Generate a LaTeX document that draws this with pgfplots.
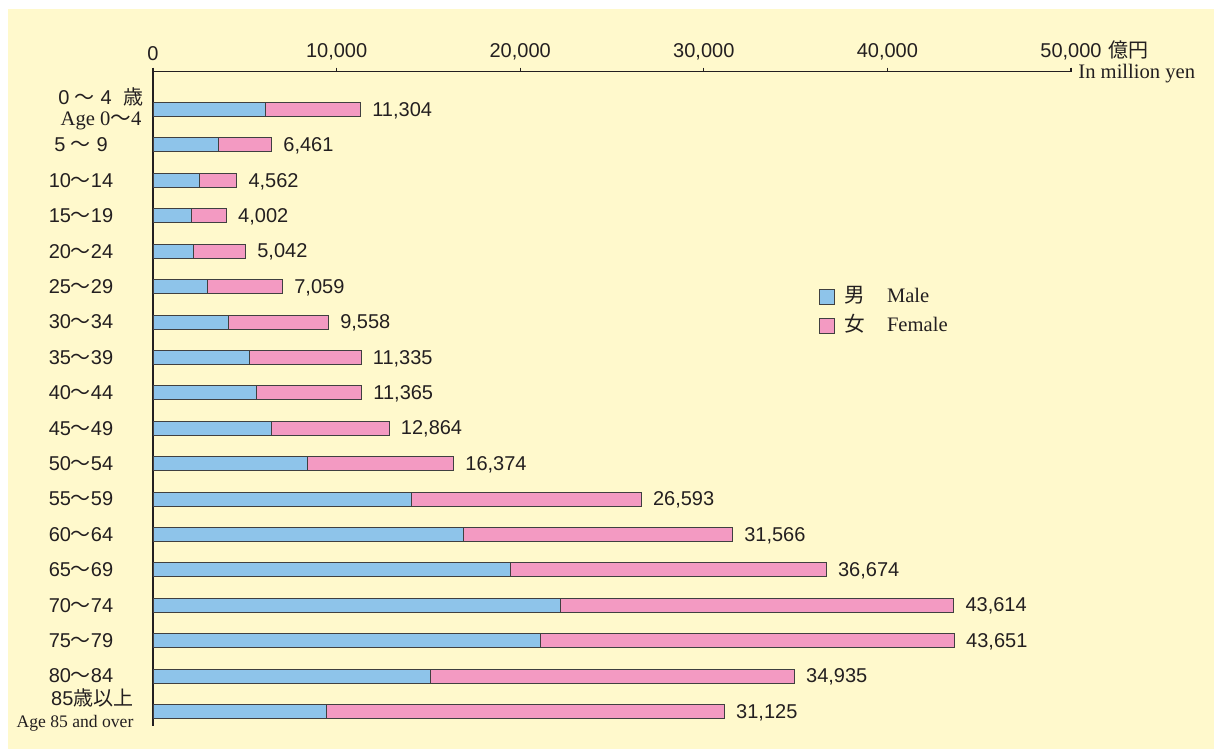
\documentclass[border=0pt]{standalone}
\usepackage{fontspec}
\setmainfont{Liberation Sans}
\newfontfamily\serif{Liberation Serif}
\newfontfamily\jp{Noto Sans CJK JP}
\usepackage{pgfplots}
\usepackage{pgfplotstable}
\pgfplotsset{compat=1.18}
\definecolor{bg}{HTML}{FFF9CC}
\definecolor{mblue}{HTML}{8EC4EA}
\definecolor{fpink}{HTML}{F39AC2}
\definecolor{edge}{HTML}{404040}
\definecolor{txt}{HTML}{231F20}
\newcommand\w{{\jp ～}}
\newcommand\fs{\fontsize{10}{11.5}\selectfont}
\newcommand\fss{\fontsize{10.3}{11.5}\selectfont}

\pgfplotstableread{
row male total
0 6148 11304
1 3591 6461
2 2557 4562
3 2122 4002
4 2231 5042
5 2992 7059
6 4135 9558
7 5277 11335
8 5658 11365
9 6474 12864
10 8433 16374
11 14091 26593
12 16921 31566
13 19478 36674
14 22198 43614
15 21110 43651
16 15125 34935
17 9467 31125
}\data

\begin{document}
\begin{tikzpicture}[x=1pt,y=1pt]
\useasboundingbox (0,0) rectangle (607,375);
\fill[white] (0,0) rectangle (607,375);
\fill[bg] (4,0.5) rectangle (607,370.5);
\begin{axis}[
  at={(76.5pt,339.2pt)}, anchor=north west,
  scale only axis, width=459pt, height=327pt,
  xmin=0, xmax=50000, ymin=-1.073, ymax=17.4, y dir=reverse,
  axis x line*=top, axis y line*=left,
  axis line style={txt, line width=0.75pt, -},
  scaled x ticks=false,
  xtick={0,10000,20000,30000,40000,50000},
  xticklabels={0,{10,000},{20,000},{30,000},{40,000},{50,000\rlap{\hspace{3.5pt}{\jp 億円}}}},
  tick align=outside, major tick length=2pt,
  xtick style={txt, line width=0.6pt},
  ytick={0,...,17}, ytick style={draw=none},
  yticklabels={
    {\hspace*{20pt}\raisebox{-2pt}{\renewcommand\arraystretch{0.9}\begin{tabular}{@{}c@{}}0 \w\ 4\hspace{6pt}{\jp 歳}\\{\serif\fss Age 0\w 4}\end{tabular}}},
    {5 \w\ 9}, {10\w 14}, {15\w 19}, {20\w 24}, {25\w 29}, {30\w 34}, {35\w 39},
    {40\w 44}, {45\w 49}, {50\w 54}, {55\w 59}, {60\w 64}, {65\w 69}, {70\w 74},
    {75\w 79}, {80\w 84},
    {\raisebox{-2.5pt}{\renewcommand\arraystretch{0.95}\begin{tabular}{@{}r@{}}85{\jp 歳以上}\\{\serif\fontsize{8.8}{10}\selectfont Age 85 and over}\end{tabular}}\hspace*{6pt}}
  },
  xticklabel style={font=\fs, text=txt},
  yticklabel style={font=\fs, text=txt, anchor=center, xshift=-34pt},
  /pgf/number format/assume math mode=true,
  /pgf/number format/1000 sep={,},
  legend image code/.code={\draw[#1] (0pt,-3.75pt) rectangle (7.5pt,3.75pt);},
  legend cell align=left,
  legend style={at={(0.718,0.633)}, anchor=west, draw=none, fill=none, font=\fss, text=txt,
    row sep=0pt, nodes={inner sep=2.75pt, text height=7pt, text depth=2pt}},
  clip=false,
]
\addlegendimage{fill=mblue, draw=edge, line width=0.5pt}
\addlegendentry{\hspace{2pt}\makebox[21.5pt][l]{\jp 男}{\serif Male}}
\addlegendimage{fill=fpink, draw=edge, line width=0.5pt}
\addlegendentry{\hspace{2pt}\makebox[21.5pt][l]{\jp 女}{\serif Female}}

\addplot[forget plot, xbar, bar width=7pt, bar shift=0pt, fill=fpink, draw=edge, line width=0.5pt,
  nodes near coords, point meta=x,
  every node near coord/.append style={font=\fs, text=txt, anchor=west, xshift=2.3pt, yshift=-0.5pt}]
  table[x=total, y=row]{\data};
\addplot[forget plot, xbar, bar width=7pt, bar shift=0pt, fill=mblue, draw=edge, line width=0.5pt]
  table[x=male, y=row]{\data};

\node[anchor=base west, inner sep=0pt, font=\serif\fss, text=txt, xshift=3.5pt, yshift=-3.5pt]
  at (axis description cs:1,1) {In million yen};
\end{axis}
\end{tikzpicture}
\end{document}
